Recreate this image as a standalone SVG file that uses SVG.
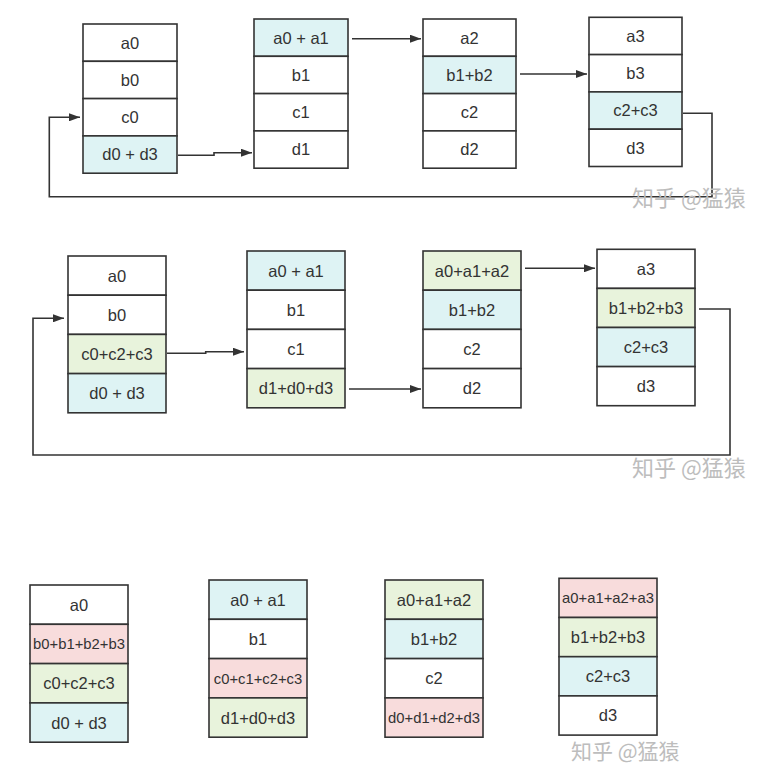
<svg xmlns="http://www.w3.org/2000/svg" width="760" height="775" viewBox="0 0 760 775">
<style>
.c{stroke:#333;stroke-width:1.6;fill:#fff}
.cy{fill:#def3f4}
.gr{fill:#e8f3dc}
.pk{fill:#f8dcdc}
.t{font-family:"Liberation Sans",Arial,sans-serif;font-size:16.5px;fill:#333;text-anchor:middle}
.s{font-size:14.8px}
.ln{fill:none;stroke:#333;stroke-width:1.6}
.wm{font-family:"Noto Sans CJK SC",sans-serif;font-size:22px;fill:#bdbdbd}
</style>
<defs>
<marker id="ah" markerWidth="11" markerHeight="8" refX="11" refY="4" orient="auto" markerUnits="userSpaceOnUse">
<path d="M0,0 L11,4 L0,8 Z" fill="#333"/>
</marker>
</defs>
<rect width="760" height="775" fill="#fff"/>

<g id="connectors">
<path class="ln" d="M178,155.3 H214 V152.7 H252" marker-end="url(#ah)"/>
<path class="ln" d="M352,38.7 H421" marker-end="url(#ah)"/>
<path class="ln" d="M520,74 H587" marker-end="url(#ah)"/>
<path class="ln" d="M683,113.3 H712 V196.7 H49.3 V117.3 H80" marker-end="url(#ah)"/>
<path class="ln" d="M167,353.3 H205.7 V351.7 H244" marker-end="url(#ah)"/>
<path class="ln" d="M349,389 H421" marker-end="url(#ah)"/>
<path class="ln" d="M525,268.3 H595" marker-end="url(#ah)"/>
<path class="ln" d="M699,309 H730 V455 H33 V318.3 H64" marker-end="url(#ah)"/>
</g>

<g id="top1" transform="translate(83,24)">
<rect class="c" x="0" y="0" width="94" height="37.3"/><text class="t" x="47" y="24.5">a0</text>
<rect class="c" x="0" y="37.3" width="94" height="37.3"/><text class="t" x="47" y="61.8">b0</text>
<rect class="c" x="0" y="74.6" width="94" height="37.3"/><text class="t" x="47" y="99.1">c0</text>
<rect class="c cy" x="0" y="111.9" width="94" height="37.3"/><text class="t" x="47" y="136.4">d0 + d3</text>
</g>
<g id="top2" transform="translate(254,19)">
<rect class="c cy" x="0" y="0" width="94" height="37.3"/><text class="t" x="47" y="24.5">a0 + a1</text>
<rect class="c" x="0" y="37.3" width="94" height="37.3"/><text class="t" x="47" y="61.8">b1</text>
<rect class="c" x="0" y="74.6" width="94" height="37.3"/><text class="t" x="47" y="99.1">c1</text>
<rect class="c" x="0" y="111.9" width="94" height="37.3"/><text class="t" x="47" y="136.4">d1</text>
</g>
<g id="top3" transform="translate(423,19)">
<rect class="c" x="0" y="0" width="93" height="37.3"/><text class="t" x="46.5" y="24.5">a2</text>
<rect class="c cy" x="0" y="37.3" width="93" height="37.3"/><text class="t" x="46.5" y="61.8">b1+b2</text>
<rect class="c" x="0" y="74.6" width="93" height="37.3"/><text class="t" x="46.5" y="99.1">c2</text>
<rect class="c" x="0" y="111.9" width="93" height="37.3"/><text class="t" x="46.5" y="136.4">d2</text>
</g>
<g id="top4" transform="translate(589,17.3)">
<rect class="c" x="0" y="0" width="93" height="37.3"/><text class="t" x="46.5" y="24.5">a3</text>
<rect class="c" x="0" y="37.3" width="93" height="37.3"/><text class="t" x="46.5" y="61.8">b3</text>
<rect class="c cy" x="0" y="74.6" width="93" height="37.3"/><text class="t" x="46.5" y="99.1">c2+c3</text>
<rect class="c" x="0" y="111.9" width="93" height="37.3"/><text class="t" x="46.5" y="136.4">d3</text>
</g>

<g id="mid1" transform="translate(68,256)">
<rect class="c" x="0" y="0" width="98" height="39.2"/><text class="t" x="49" y="25.5">a0</text>
<rect class="c" x="0" y="39.2" width="98" height="39.2"/><text class="t" x="49" y="64.7">b0</text>
<rect class="c gr" x="0" y="78.4" width="98" height="39.2"/><text class="t" x="49" y="103.9">c0+c2+c3</text>
<rect class="c cy" x="0" y="117.6" width="98" height="39.2"/><text class="t" x="49" y="143.1">d0 + d3</text>
</g>
<g id="mid2" transform="translate(247,251)">
<rect class="c cy" x="0" y="0" width="98" height="39.2"/><text class="t" x="49" y="25.5">a0 + a1</text>
<rect class="c" x="0" y="39.2" width="98" height="39.2"/><text class="t" x="49" y="64.7">b1</text>
<rect class="c" x="0" y="78.4" width="98" height="39.2"/><text class="t" x="49" y="103.9">c1</text>
<rect class="c gr" x="0" y="117.6" width="98" height="39.2"/><text class="t" x="49" y="143.1">d1+d0+d3</text>
</g>
<g id="mid3" transform="translate(423,251)">
<rect class="c gr" x="0" y="0" width="98" height="39.2"/><text class="t" x="49" y="25.5">a0+a1+a2</text>
<rect class="c cy" x="0" y="39.2" width="98" height="39.2"/><text class="t" x="49" y="64.7">b1+b2</text>
<rect class="c" x="0" y="78.4" width="98" height="39.2"/><text class="t" x="49" y="103.9">c2</text>
<rect class="c" x="0" y="117.6" width="98" height="39.2"/><text class="t" x="49" y="143.1">d2</text>
</g>
<g id="mid4" transform="translate(597,249.3)">
<rect class="c" x="0" y="0" width="98" height="39.1"/><text class="t" x="49" y="25.4">a3</text>
<rect class="c gr" x="0" y="39.1" width="98" height="39.1"/><text class="t" x="49" y="64.5">b1+b2+b3</text>
<rect class="c cy" x="0" y="78.2" width="98" height="39.1"/><text class="t" x="49" y="103.6">c2+c3</text>
<rect class="c" x="0" y="117.3" width="98" height="39.1"/><text class="t" x="49" y="142.7">d3</text>
</g>

<g id="bot1" transform="translate(30,585)">
<rect class="c" x="0" y="0" width="98" height="39.3"/><text class="t" x="49" y="25.6">a0</text>
<rect class="c pk" x="0" y="39.3" width="98" height="39.3"/><text class="t s" x="49" y="64.3">b0+b1+b2+b3</text>
<rect class="c gr" x="0" y="78.6" width="98" height="39.3"/><text class="t" x="49" y="104.2">c0+c2+c3</text>
<rect class="c cy" x="0" y="117.9" width="98" height="39.3"/><text class="t" x="49" y="143.5">d0 + d3</text>
</g>
<g id="bot2" transform="translate(209,580)">
<rect class="c cy" x="0" y="0" width="98" height="39.3"/><text class="t" x="49" y="25.6">a0 + a1</text>
<rect class="c" x="0" y="39.3" width="98" height="39.3"/><text class="t" x="49" y="64.9">b1</text>
<rect class="c pk" x="0" y="78.6" width="98" height="39.3"/><text class="t s" x="49" y="103.6">c0+c1+c2+c3</text>
<rect class="c gr" x="0" y="117.9" width="98" height="39.3"/><text class="t" x="49" y="143.5">d1+d0+d3</text>
</g>
<g id="bot3" transform="translate(385,580)">
<rect class="c gr" x="0" y="0" width="98" height="39.3"/><text class="t" x="49" y="25.6">a0+a1+a2</text>
<rect class="c cy" x="0" y="39.3" width="98" height="39.3"/><text class="t" x="49" y="64.9">b1+b2</text>
<rect class="c" x="0" y="78.6" width="98" height="39.3"/><text class="t" x="49" y="104.2">c2</text>
<rect class="c pk" x="0" y="117.9" width="98" height="39.3"/><text class="t s" x="49" y="142.9">d0+d1+d2+d3</text>
</g>
<g id="bot4" transform="translate(559,578.3)">
<rect class="c pk" x="0" y="0" width="98" height="39.2"/><text class="t s" x="49" y="25">a0+a1+a2+a3</text>
<rect class="c gr" x="0" y="39.2" width="98" height="39.2"/><text class="t" x="49" y="64.7">b1+b2+b3</text>
<rect class="c cy" x="0" y="78.4" width="98" height="39.2"/><text class="t" x="49" y="103.9">c2+c3</text>
<rect class="c" x="0" y="117.6" width="98" height="39.2"/><text class="t" x="49" y="143.1">d3</text>
</g>

<g id="watermarks">
<text class="wm" x="632" y="206">知乎 @猛猿</text>
<text class="wm" x="632" y="476">知乎 @猛猿</text>
<text class="wm" x="571" y="759" style="font-size:21px">知乎 @猛猿</text>
</g>
</svg>
